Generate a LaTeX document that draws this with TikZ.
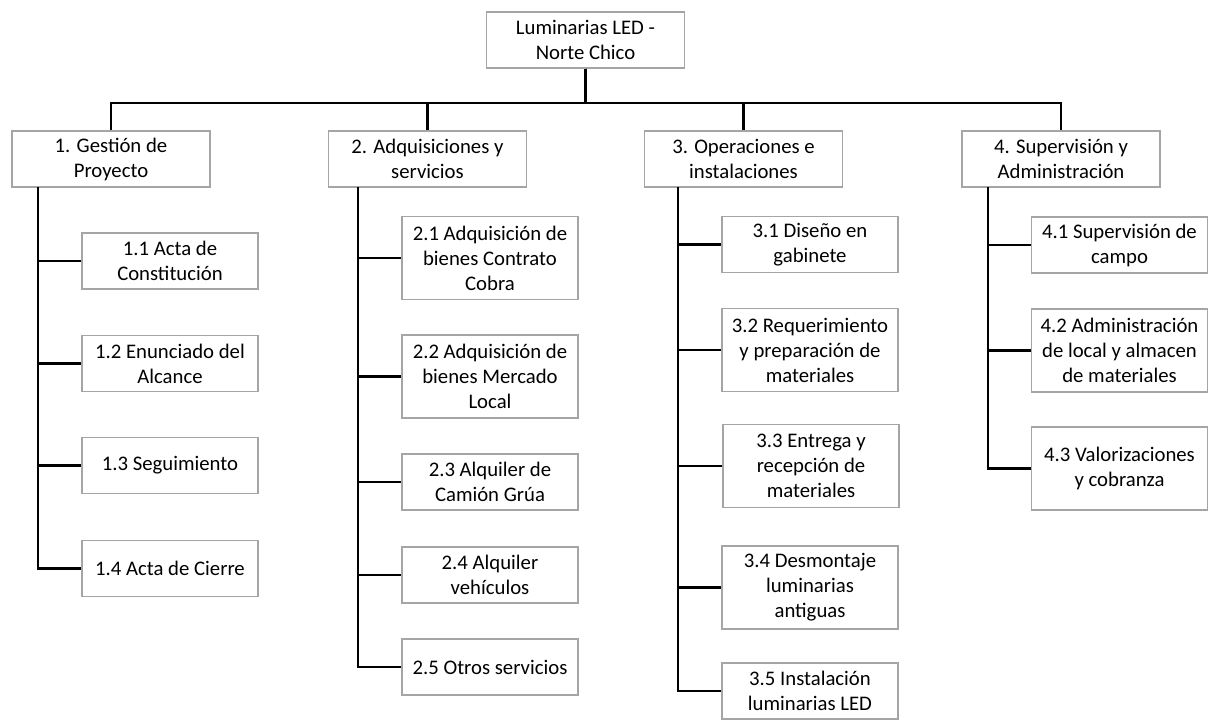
\documentclass[tikz,border=0pt]{standalone}
\usepackage{fontspec}
\setmainfont{Carlito}
\definecolor{BoxLine}{RGB}{165,165,165}
\usetikzlibrary{positioning}

\begin{document}
\begin{tikzpicture}[x=0.02cm,y=-0.02cm,
  box/.style={draw=BoxLine,fill=white,line width=0.6pt,
              minimum width=3.52cm,minimum height=1.12cm,inner sep=2pt,
              align=center,font=\fontsize{11.8}{14.2}\selectfont},
  head/.style={box,minimum width=3.96cm},
  tall/.style={box,minimum height=1.66cm},
  link/.style={draw=black,line width=1.3pt}]
  \useasboundingbox (0,0) rectangle (1208,720);

  % root and first level
  \node[head] (root) at (585.5,40) {Luminarias LED -\\Norte Chico};
  \node[head] (g1) at (111,159)    {1. Gestión de\\Proyecto};
  \node[head] (g2) at (427.5,159)  {2. Adquisiciones y\\servicios};
  \node[head] (g3) at (743.5,159)  {3. Operaciones e\\instalaciones};
  \node[head] (g4) at (1061,159)   {4. Supervisión y\\Administración};

  % 1. Gestion de Proyecto
  \node[box] (c11) at (170,261)   {1.1 Acta de\\Constitución};
  \node[box] (c12) at (170,363.5) {1.2 Enunciado del\\Alcance};
  \node[box] (c13) at (170,465.5) {1.3 Seguimiento};
  \node[box] (c14) at (170,568.5) {1.4 Acta de Cierre};

  % 2. Adquisiciones
  \node[tall] (c21) at (490,258)   {2.1 Adquisición de\\bienes Contrato\\Cobra};
  \node[tall] (c22) at (490,376.5) {2.2 Adquisición de\\bienes Mercado\\Local};
  \node[box]  (c23) at (490,482)   {2.3 Alquiler de\\Camión Grúa};
  \node[box]  (c24) at (490,575)   {2.4 Alquiler\\vehículos};
  \node[box]  (c25) at (490,667)   {2.5 Otros servicios};

  % 3. Operaciones
  \node[box]  (c31) at (810,244.5) {3.1 Diseño en\\gabinete};
  \node[tall] (c32) at (810,350)   {3.2 Requerimiento\\y preparación de\\materiales};
  \node[tall] (c33) at (811,466)   {3.3 Entrega y\\recepción de\\materiales};
  \node[tall] (c34) at (810,587.5) {3.4 Desmontaje\\luminarias\\antiguas};
  \node[box]  (c35) at (810,691)   {3.5 Instalación\\luminarias LED};

  % 4. Supervision
  \node[box]  (c41) at (1119.5,245)   {4.1 Supervisión de\\campo};
  \node[tall] (c42) at (1119.5,350.5) {4.2 Administración\\de local y almacen\\de materiales};
  \node[tall] (c43) at (1119.5,468.5) {4.3 Valorizaciones\\y cobranza};

  % connectors
  \coordinate (bus) at (585.5,103);
  \foreach \g in {g1,g2,g3,g4}
    \draw[link] (root.south) -- (bus) -| (\g.north);

  \coordinate (s1) at (38,187);
  \coordinate (s2) at (358,187);
  \coordinate (s3) at (678,187);
  \coordinate (s4) at (988,187);
  \foreach \c in {c11,c12,c13,c14}
    \draw[link] (s1) |- (\c.west);
  \foreach \c in {c21,c22,c23,c24,c25}
    \draw[link] (s2) |- (\c.west);
  \foreach \c in {c31,c32,c33,c34,c35}
    \draw[link] (s3) |- (\c.west);
  \foreach \c in {c41,c42,c43}
    \draw[link] (s4) |- (\c.west);
\end{tikzpicture}
\end{document}
